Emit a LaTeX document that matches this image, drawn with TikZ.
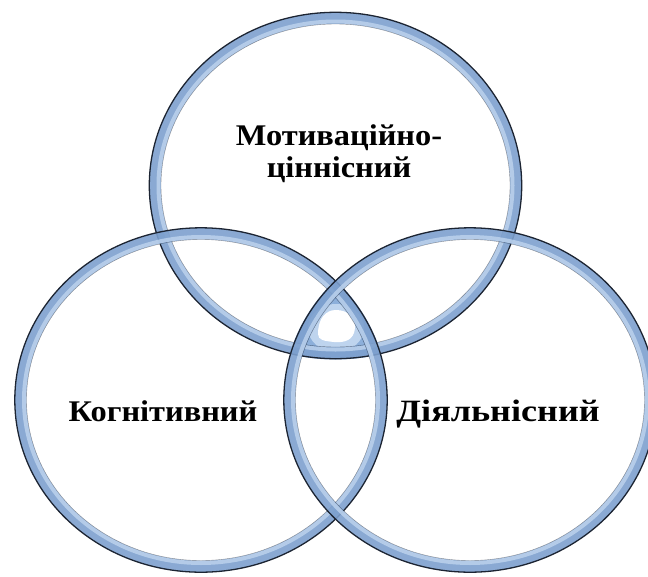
\documentclass[tikz,border=0pt]{standalone}
\usepackage{fontspec}
\setmainfont{Liberation Serif}
\definecolor{bandblue}{RGB}{125,160,206}
\definecolor{bandlight}{RGB}{190,212,238}
\definecolor{rimdark}{RGB}{28,36,50}
\definecolor{coreblue}{RGB}{140,175,218}
\tikzset{
  band/.style={draw=bandblue,line width=11.5pt,opacity=0.9},
  bandin/.style={draw=bandlight,line width=4pt,opacity=0.8},
  rim/.style={draw=rimdark,line width=1.3pt},
  label/.style={font=\fontsize{30}{32}\bfseries\selectfont,text=black,inner sep=0pt,xscale=1.08,transform shape}
}
\begin{document}
\begin{tikzpicture}[x=1pt,y=-1pt]
\useasboundingbox (0,0) rectangle (648,576);
\coordinate (ct) at (335.5,185.5);
\coordinate (cl) at (201,400);
\coordinate (cr) at (470,400);
% triple overlap core
\begin{scope}
  \clip (ct) ellipse [x radius=187pt,y radius=174pt];
  \clip (cl) ellipse [x radius=187pt,y radius=173pt];
  \clip (cr) ellipse [x radius=187pt,y radius=173pt];
  \fill[coreblue] (0,0) rectangle (648,576);
  \fill[bandlight] (336,328) ellipse [x radius=28pt,y radius=24pt];
  \fill[white] (318,334) .. controls (318,318) and (326,310) .. (336,310)
     .. controls (348,310) and (356,318) .. (355,328)
     .. controls (354,340) and (345,343) .. (334,342)
     .. controls (324,341) and (318,340) .. (318,334) -- cycle;
\end{scope}
% rings
\foreach \c/\rx/\ry in {ct/187/174, cl/187/173, cr/187/173}{
  \draw[band] (\c) ellipse [x radius={(\rx-6.5)*1pt},y radius={(\ry-6.5)*1pt}];
  \draw[bandin] (\c) ellipse [x radius={(\rx-10)*1pt},y radius={(\ry-10)*1pt}];
  \draw[rim] (\c) ellipse [x radius={(\rx-0.8)*1pt},y radius={(\ry-0.8)*1pt}];
  \draw[draw=rimdark,line width=0.4pt,opacity=0.5] (\c) ellipse [x radius={(\rx-12.5)*1pt},y radius={(\ry-12.5)*1pt}];
}
\node[label,anchor=base] (top1) at (339,145) {Мотиваційно-};
\node[label,anchor=base] (top2) at (339,177) {ціннісний};
\node[label,anchor=base] (left) at (163,421) {Когнітивний};
\node[label,anchor=base,font=\fontsize{31}{32}\bfseries\selectfont,xscale=1.08] (right) at (498,421) {Діяльнісний};
\end{tikzpicture}
\end{document}
